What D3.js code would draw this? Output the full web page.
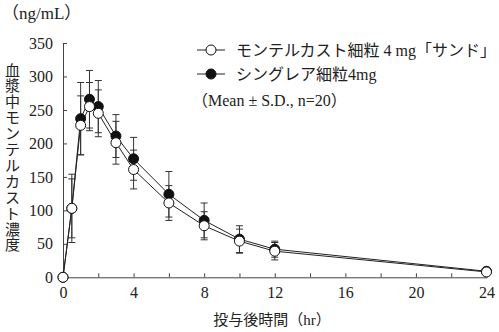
<!DOCTYPE html>
<html>
<head>
<meta charset="utf-8">
<script src="https://cdn.jsdelivr.net/npm/d3@7"></script>
<style>
  body { margin: 0; background: #fff; }
  svg text { font-family: "Liberation Serif", "Noto Sans CJK JP", serif; fill: #222; }
</style>
</head>
<body>
<svg id="chart"></svg>
<script>
const hours = [0, 0.5, 1, 1.5, 2, 3, 4, 6, 8, 10, 12, 24];
const testMean = [0, 103, 227, 255, 245, 201, 161, 111, 77, 54, 39, 8];
const testSD   = [0, 44, 44, 36, 35, 32, 29, 26, 21, 18, 13, 4];
const refMean  = [0, 103, 237, 266, 255, 211, 177, 124, 85, 57, 42, 9];
const refSD    = [0, 51, 54, 43, 39, 32, 32, 34, 26, 20, 12, 4];
const xTicks = [0, 4, 8, 12, 16, 20, 24];
const yTicks = [0, 50, 100, 150, 200, 250, 300, 350];
const legendLabels = ["モンテルカスト細粒 4 mg「サンド」", "シングレア細粒4mg"];
const yTitle = "血漿中モンテルカスト濃度";

const svg = d3.select("#chart").attr("width", 499).attr("height", 332);
const margin = {top: 43, left: 63};
const width = 486.5 - 63, height = 277.3 - 43;
const g = svg.append("g").attr("transform", `translate(${margin.left},${margin.top})`);

const x = d3.scaleLinear().domain([0, 24]).range([0, width]);
const y = d3.scaleLinear().domain([0, 350]).range([height, 0]);

// axes
const xAxis = g.append("g").attr("transform", `translate(0,${height})`)
  .call(d3.axisBottom(x).tickValues(d3.range(0, 25, 2)).tickSize(-4).tickPadding(8)
    .tickFormat(d => xTicks.includes(d) ? d : ""));
const yAxis = g.append("g")
  .call(d3.axisLeft(y).tickValues(yTicks).tickSize(-4).tickPadding(10));
[xAxis, yAxis].forEach(a => {
  a.select(".domain").attr("stroke", "#444");
  a.selectAll(".tick line").attr("stroke", "#444");
  a.selectAll("text").attr("font-size", 16).attr("fill", "#222");
});
xAxis.selectAll("text").attr("dy", "0.8em");

const series = [
  {mean: refMean, sd: refSD, fill: "#111"},
  {mean: testMean, sd: testSD, fill: "#fff"}
];

series.forEach(s => {
  const pts = hours.map((h, i) => ({h, m: s.mean[i], sd: s.sd[i]}));
  const eb = g.append("g").attr("stroke", "#333").attr("stroke-width", 1);
  pts.filter(p => p.sd > 0).forEach(p => {
    const cx = x(p.h);
    eb.append("line").attr("x1", cx).attr("x2", cx).attr("y1", y(p.m + p.sd)).attr("y2", y(p.m - p.sd));
    [p.m + p.sd, p.m - p.sd].forEach(v =>
      eb.append("line").attr("x1", cx - 3.5).attr("x2", cx + 3.5).attr("y1", y(v)).attr("y2", y(v)));
  });
});

series.forEach(s => {
  const pts = hours.map((h, i) => ({h, m: s.mean[i]}));
  g.append("path").datum(pts)
    .attr("fill", "none").attr("stroke", "#222").attr("stroke-width", 1)
    .attr("d", d3.line().x(d => x(d.h)).y(d => y(d.m)));
});

series.forEach(s => {
  const pts = hours.map((h, i) => ({h, m: s.mean[i]}));
  g.selectAll(null).data(pts).enter().append("circle")
    .attr("cx", d => x(d.h)).attr("cy", d => y(d.m)).attr("r", 5)
    .attr("fill", s.fill).attr("stroke", "#111").attr("stroke-width", 1);
});

// legend
const legend = svg.append("g");
[series[1], series[0]].forEach((s, i) => {
  const ly = 50 + i * 24;
  legend.append("line").attr("x1", 197).attr("x2", 225).attr("y1", ly).attr("y2", ly)
    .attr("stroke", "#222");
  legend.append("circle").attr("cx", 211).attr("cy", ly).attr("r", 5)
    .attr("fill", s.fill).attr("stroke", "#111");
  legend.append("text").attr("x", 236).attr("y", ly + 5.5).attr("font-size", 16)
    .text(legendLabels[i]);
});
legend.append("text").attr("x", 192).attr("y", 106).attr("font-size", 16)
  .text("（Mean ± S.D., n=20）");

// titles
svg.append("text").attr("x", 2).attr("y", 19).attr("font-size", 17).text("（ng/mL）");
svg.append("text").attr("x", 272).attr("y", 325).attr("text-anchor", "middle")
  .attr("font-size", 15).text("投与後時間（hr）");
svg.append("g").selectAll("text").data(Array.from(yTitle)).enter().append("text")
  .attr("x", 12.5).attr("y", (d, i) => 75.5 + i * 15.9)
  .attr("text-anchor", "middle").attr("font-size", 15).text(d => d);
</script>
</body>
</html>
